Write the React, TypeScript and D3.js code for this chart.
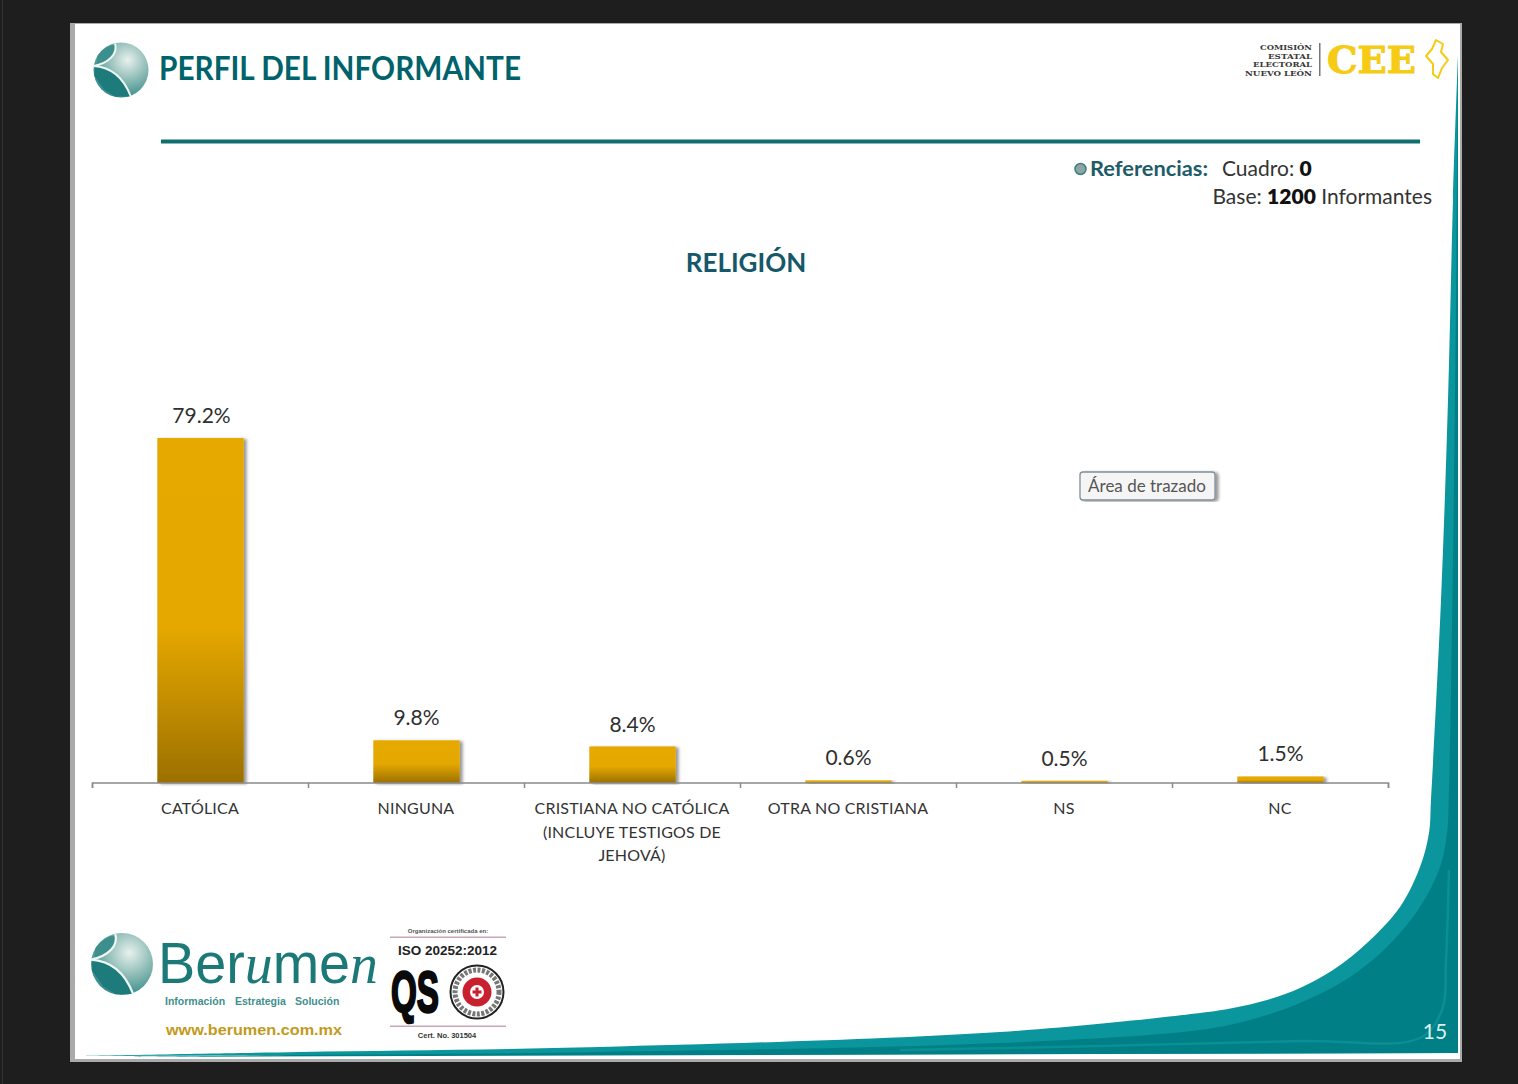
import React from "react";
import * as d3 from "d3";

const categories = ["CATÓLICA", "NINGUNA", "CRISTIANA NO CATÓLICA", "OTRA NO CRISTIANA", "NS", "NC"];
const values = [79.2, 9.8, 8.4, 0.6, 0.5, 1.5];
const valueLabels = ["79.2%", "9.8%", "8.4%", "0.6%", "0.5%", "1.5%"];
const categoryLines = [
  ["CATÓLICA"],
  ["NINGUNA"],
  ["CRISTIANA NO CATÓLICA", "(INCLUYE TESTIGOS DE", "JEHOVÁ)"],
  ["OTRA NO CRISTIANA"],
  ["NS"],
  ["NC"],
];
const cee = ["COMISIÓN", "ESTATAL", "ELECTORAL", "NUEVO LEÓN"];

const x = d3.scaleBand<string>().domain(categories).range([92.5, 1388.5]).paddingInner(0.6).paddingOuter(0.3);
const bandStep = x.step();
const y = d3.scaleLinear().domain([0, 79.2]).range([783, 438]);
const tickXs = d3.range(categories.length + 1).map((i) => 92.5 + i * bandStep);

const TEAL = "#00636b";
const FONT = "Lato, 'Open Sans', sans-serif";
const line = d3.line().curve(d3.curveCatmullRom.alpha(0.5));

const whiteEdge: [number, number][] = [[1458, 55], [1453, 200], [1448, 400], [1441, 600], [1431, 800], [1429, 833], [1420, 867], [1400, 907], [1367, 943], [1333, 970], [1300, 988], [1267, 1000], [1233, 1008], [1200, 1013], [1000, 1032], [600, 1047], [300, 1052], [80, 1056]];
const lightEdge: [number, number][] = [[1458, 90], [1456, 300], [1453, 560], [1449, 790], [1447, 833], [1440, 867], [1420, 907], [1387, 947], [1350, 977], [1300, 1003], [1250, 1020], [1200, 1030], [1000, 1043], [600, 1052], [300, 1055], [120, 1057]];
const glowEdge: [number, number][] = [[1449, 870], [1446, 960], [1442, 1010], [1420, 1038], [1300, 1041], [1100, 1046], [900, 1050]];

function Globe({ cx, cy, r, id }: { cx: number; cy: number; r: number; id: string }) {
  return (
    <g transform={`translate(${cx},${cy}) scale(${r / 28})`}>
      <defs>
        <radialGradient id={id} cx="0.62" cy="0.32" r="0.8">
          <stop offset="0" stopColor="#e8f1ee" />
          <stop offset="0.45" stopColor="#8fbcb6" />
          <stop offset="1" stopColor="#1e7f7e" />
        </radialGradient>
      </defs>
      <circle r={28} fill={`url(#${id})`} />
      <path d="M-27,-4 C-14,-3 0,4 9,27 L-6,27 L-17,20 L-27,6 Z" fill="#1d7c7b" />
      <path d="M-24,-14 C-20,-20 -14,-25 -7,-26 C-4,-18 -12,-9 -25,-6 Z" fill="#3c8f8c" />
      <path d="M-28,-4 C-12,-7 -3,-17 -6,-27 M-28,-4 C-12,-3 2,6 10,27" fill="none" stroke="#eef6f4" strokeWidth={2} />
    </g>
  );
}

export default function App() {
  return (
    <svg width={1518} height={1084} style={{ position: "absolute", left: 0, top: 0, display: "block" }} fontFamily={FONT}>
      <defs>
        <linearGradient id="barFill" x1="0" y1="0" x2="0" y2="1">
          <stop offset="0" stopColor="#e6a900" />
          <stop offset="0.55" stopColor="#e5a800" />
          <stop offset="1" stopColor="#9c7000" />
        </linearGradient>
        <filter id="barShadow" x="-10%" y="-5%" width="125%" height="110%">
          <feDropShadow dx="3" dy="1" stdDeviation="1.8" floodColor="#000" floodOpacity="0.4" />
        </filter>
      </defs>

      <rect width={1518} height={1084} fill="#1e1e1e" />
      <rect x={2} y={0} width={1} height={1084} fill="#333" />
      <rect x={70} y={23} width={1392} height={1039} fill="#a9abab" />
      <rect x={75} y={24} width={1385} height={1035} fill="#ffffff" />

      <path d={`${line(whiteEdge)}L1458,1053Z`} fill="#0a969c" />
      <path d={`${line(lightEdge)}L1458,1053Z`} fill="#007f86" />
      <path d={line(glowEdge)!} fill="none" stroke="#0a8f95" strokeWidth={2.5} />

      <Globe cx={121} cy={70} r={27.5} id="globeTop" />
      <text x={159} y={80} fontSize={32} fontWeight={700} fill={TEAL} textLength={362} lengthAdjust="spacingAndGlyphs">PERFIL DEL INFORMANTE</text>
      <rect x={161} y={139.5} width={1259} height={4} fill="#0f6f70" />

      <g textAnchor="end" fontFamily="'DejaVu Serif', serif" fontWeight={700} fontSize={8} fill="#3a3a3a">
        {cee.map((t, i) => <text key={t} x={1312} y={50 + i * 8.7} textLength={[52, 44, 59, 67][i]} lengthAdjust="spacingAndGlyphs">{t}</text>)}
      </g>
      <rect x={1319} y={43} width={1.5} height={33} fill="#777" />
      <text x={1327} y={73} fontFamily="'DejaVu Serif', serif" fontWeight={700} fontSize={38} fill="#f6cb15" stroke="#f6cb15" strokeWidth={1} textLength={89} lengthAdjust="spacingAndGlyphs">CEE</text>
      <path d="M1436,40 L1443,44 L1441,52 L1448,60 L1442,68 L1438,78 L1433,74 L1433,64 L1426,56 L1432,49 Z" fill="#fff" stroke="#f6cb15" strokeWidth={2} strokeLinejoin="round" />

      <circle cx={1080.5} cy={169} r={5.5} fill="#8fa5a5" stroke="#3d7c80" strokeWidth={1.5} />
      <text x={1090} y={176} fontSize={21} fontWeight={700} fill="#1d5c68" textLength={118} lengthAdjust="spacingAndGlyphs">Referencias:</text>
      <text x={1222} y={176} fontSize={21} fill="#333">Cuadro: <tspan fontWeight={800} fill="#111">0</tspan></text>
      <text x={1432} y={204} fontSize={21} fill="#333" textAnchor="end">Base: <tspan fontWeight={800} fill="#111">1200</tspan> Informantes</text>

      <text x={746} y={272} fontSize={26} fontWeight={700} fill="#15586a" textAnchor="middle">RELIGIÓN</text>

      {categories.map((c, i) => (
        <rect key={c} x={x(c)} y={y(values[i])} width={x.bandwidth()} height={y(0) - y(values[i])} fill="url(#barFill)" filter="url(#barShadow)" />
      ))}

      <path d={`M92.5,788V783H1388.5V788`} fill="none" stroke="#8b8b8b" strokeWidth={1.5} />
      {tickXs.map((t) => <line key={t} x1={t} x2={t} y1={783} y2={788} stroke="#8b8b8b" strokeWidth={1.5} />)}

      {categories.map((c, i) => (
        <text key={c} x={x(c)! + x.bandwidth() / 2 + (i === 0 ? 1 : 0)} y={y(values[i]) - (i === 2 ? 14 : 15)} fontSize={21} fill="#2f2f2f" textAnchor="middle">{valueLabels[i]}</text>
      ))}
      {categories.map((c, i) => (
        <text key={c} fontSize={16} fill="#333" textAnchor="middle" letterSpacing={0.2}>
          {categoryLines[i].map((t, j) => (
            <tspan key={t} x={x(c)! + x.bandwidth() / 2 - 0.5} y={814 + j * 23.7}>{t}</tspan>
          ))}
        </text>
      ))}

      <rect x={1080} y={472} width={135} height={28} rx={3} fill="#f5f5f5" stroke="#7f8f99" strokeWidth={1.3} filter="url(#barShadow)" />
      <text x={1147} y={492} fontSize={17} fill="#555" textAnchor="middle">Área de trazado</text>

      <Globe cx={122} cy={964} r={31} id="globeBottom" />
      <text x={158} y={983} fontSize={57} fontFamily="'Liberation Sans', sans-serif" fill="#1b7a78" textLength={220} lengthAdjust="spacingAndGlyphs">
        Ber<tspan fontFamily="'Liberation Serif', serif" fontStyle="italic">u</tspan>me<tspan fontFamily="'Liberation Serif', serif" fontStyle="italic">n</tspan>
      </text>
      <g fontSize={10.5} fontWeight={700} fontFamily="'Liberation Sans', sans-serif" fill="#3f8f8c">
        <text x={165} y={1005}>Información</text>
        <text x={235} y={1005}>Estrategia</text>
        <text x={295} y={1005}>Solución</text>
      </g>
      <text x={166} y={1035} fontSize={15.5} fontWeight={700} fontFamily="'Liberation Sans', sans-serif" fill="#c29a1c" textLength={176} lengthAdjust="spacingAndGlyphs">www.berumen.com.mx</text>

      <g fontFamily="'Liberation Sans', sans-serif" fontWeight={700}>
        <text x={448} y={933} fontSize={6} fill="#555" textAnchor="middle">Organización certificada en:</text>
        <rect x={390} y={936.5} width={116} height={1.5} fill="#c9a7b4" />
        <text x={447.5} y={954.5} fontSize={13.5} fill="#222" textAnchor="middle">ISO 20252:2012</text>
        <text x={415} y={1012} fontSize={58} fill="#0a0a0a" stroke="#0a0a0a" strokeWidth={2.5} textAnchor="middle" textLength={48} lengthAdjust="spacingAndGlyphs">QS</text>
        <circle cx={477} cy={992} r={26.5} fill="#fff" stroke="#222" strokeWidth={2} />
        <circle cx={477} cy={992} r={22} fill="none" stroke="#777" strokeWidth={5} strokeDasharray="3 1.5" />
        <circle cx={477} cy={992} r={14.5} fill="#c8202f" />
        <circle cx={477} cy={992} r={7} fill="#fff" />
        <path d="M477,987.5V996.5M472.5,992H481.5" stroke="#c8202f" strokeWidth={3} />
        <rect x={390} y={1025.5} width={116} height={1.5} fill="#c9a7b4" />
        <text x={447} y={1038} fontSize={7.5} fill="#333" textAnchor="middle">Cert. No. 301504</text>
      </g>

      <text x={1435} y={1039} fontSize={21} fill="#d8f0ee" textAnchor="middle">15</text>
    </svg>
  );
}
